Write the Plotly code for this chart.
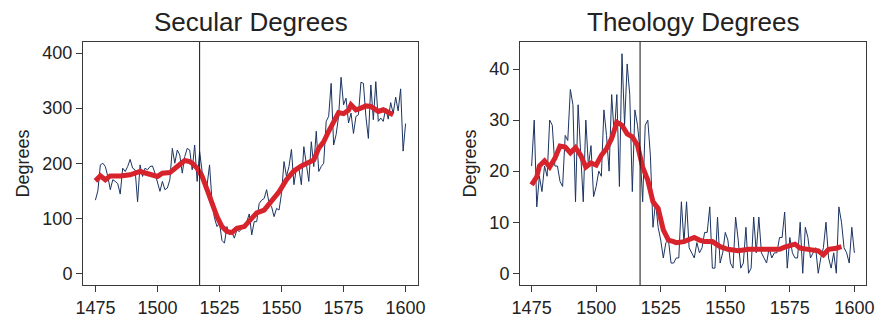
import plotly.graph_objects as go

years = list(range(1475, 1601))

secular = [133, 150, 197, 200, 194, 176, 152, 170, 167, 163,
           144, 191, 185, 194, 207, 191, 188, 130, 197, 176,
           191, 188, 194, 195, 182, 167, 149, 167, 152, 155,
           170, 227, 200, 224, 215, 182, 212, 227, 224, 188,
           233, 167, 221, 185, 173, 160, 197, 130, 100, 85,
           92, 60, 55, 85, 70, 76, 64, 79, 76, 82,
           88, 94, 108, 70, 94, 94, 127, 133, 136, 152,
           127, 121, 103, 118, 115, 145, 203, 176, 194, 225,
           161, 191, 191, 161, 230, 200, 167, 239, 194, 258,
           185, 194, 200, 276, 285, 345, 233, 252, 285, 356,
           306, 318, 273, 291, 254, 285, 288, 347, 345, 285,
           245, 342, 279, 348, 276, 282, 276, 300, 280, 310,
           290, 320, 295, 335, 222, 272]

theology = [21, 30, 13, 19, 16, 21, 19, 30, 29, 21,
            21, 18, 17, 27, 26, 36, 33, 14, 33, 24,
            14, 30, 21, 25, 15, 17, 20, 19, 32, 27,
            20, 35, 27, 35, 17, 43, 29, 41, 35, 16,
            32, 29, 24, 14, 29, 30, 23, 9, 14, 9,
            6.5, 3, 6, 6.5, 2, 2, 3, 3, 14, 6,
            14, 5, 4, 3, 6, 4, 5, 8, 8, 13,
            1, 1, 11, 2, 4, 8, 6.5, 2, 1, 11,
            6.5, 1, 2, 9, 0, 1, 11, 4, 11, 4,
            3, 2, 5, 3, 4, 4, 7, 7, 12, 1,
            7, 4, 3, 3, 10, 0, 9, 7, 3, 4,
            5, 0, 3, 5, 10, 3, 1, 4, 0, 13,
            10, 5, 4, 2, 9, 4]

sec_smooth_years = [1475, 1477, 1479, 1481, 1485, 1489, 1493, 1497, 1500, 1502,
                    1505, 1508, 1511, 1513, 1514, 1516, 1518, 1520, 1522, 1524,
                    1526, 1528, 1530, 1532, 1535, 1538, 1540, 1543, 1546, 1549,
                    1552, 1555, 1558, 1561, 1563, 1565, 1567, 1569, 1571, 1573,
                    1575, 1577, 1578, 1580, 1582, 1584, 1586, 1589, 1591, 1593,
                    1595]
sec_smooth = [168, 177, 170, 177, 177, 179, 185, 179, 176, 182,
              183, 194, 205, 203, 200, 191, 176, 152, 124, 103,
              85, 76, 74, 82, 85, 100, 110, 115, 130, 148,
              170, 186, 195, 201, 206, 227, 239, 258, 276, 292,
              290, 296, 306, 297, 300, 304, 303, 294, 297, 292,
              288]

theo_smooth_years = [1475, 1477, 1478, 1480, 1482, 1484, 1486, 1488, 1490, 1492,
                     1494, 1496, 1498, 1500, 1502, 1504, 1506, 1508, 1510, 1512,
                     1514, 1516, 1518, 1520, 1522, 1524, 1526, 1528, 1530, 1531,
                     1534, 1538, 1540, 1542, 1545, 1548, 1551, 1555, 1559, 1563,
                     1567, 1571, 1573, 1577, 1579, 1582, 1586, 1588, 1590, 1593,
                     1595]
theo_smooth = [17.3, 18.9, 21, 22, 20.8, 22.5, 24.9, 24.7, 23.6, 24.6,
               23.1, 20.8, 21.6, 21.2, 23.1, 24.4, 26.4, 29.6, 29, 27.3,
               26.7, 25.1, 20.8, 18.2, 14, 12.7, 8.5, 6.5, 6.2, 6,
               6.2, 7, 6.5, 6.2, 6.2, 5.2, 4.7, 4.4, 4.7, 4.7,
               4.9, 4.7, 5.1, 5.7, 4.9, 4.7, 4.4, 3.6, 4.7, 4.9,
               5.2]

titles = ["Secular Degrees", "Theology Degrees"]
x_ticks = [1475, 1500, 1525, 1550, 1575, 1600]
sec_y_ticks = [0, 100, 200, 300, 400]
theo_y_ticks = [0, 10, 20, 30, 40]
reform_year = 1517

NAVY = "#1c3461"
RED = "#d7232b"
AX = "#3a3a3a"
FONT = "Liberation Sans, Arial, sans-serif"

W, H = 878, 320
fig = go.Figure()

fig.add_trace(go.Scatter(x=years, y=secular, mode="lines",
                         line=dict(color=NAVY, width=1), xaxis="x", yaxis="y",
                         showlegend=False, hoverinfo="skip"))
fig.add_trace(go.Scatter(x=sec_smooth_years, y=sec_smooth, mode="lines",
                         line=dict(color=RED, width=5), xaxis="x", yaxis="y",
                         showlegend=False, hoverinfo="skip"))
fig.add_trace(go.Scatter(x=years, y=theology, mode="lines",
                         line=dict(color=NAVY, width=1), xaxis="x2", yaxis="y2",
                         showlegend=False, hoverinfo="skip"))
fig.add_trace(go.Scatter(x=theo_smooth_years, y=theo_smooth, mode="lines",
                         line=dict(color=RED, width=5), xaxis="x2", yaxis="y2",
                         showlegend=False, hoverinfo="skip"))

left_dom = [83 / W, 418 / W]
right_dom = [520 / W, 866 / W]
y_dom = [1 - 285 / H, 1 - 42 / H]

axis_common = dict(showline=True, mirror=True, linecolor=AX, linewidth=1,
                   ticks="outside", ticklen=6, tickcolor=AX, tickwidth=1,
                   showgrid=False, zeroline=False, automargin=False,
                   tickfont=dict(family=FONT, size=18, color="#222222"))

fig.update_layout(
    width=W, height=H,
    margin=dict(l=0, r=0, t=0, b=0),
    paper_bgcolor="white", plot_bgcolor="white",
    font=dict(family=FONT, color="#222222"),
    xaxis=dict(domain=left_dom, range=[1470, 1605], tickvals=x_ticks,
               anchor="y", **axis_common),
    yaxis=dict(domain=y_dom, range=[-21, 420], tickvals=sec_y_ticks,
               anchor="x", title=dict(text="Degrees", standoff=8,
                                      font=dict(family=FONT, size=18, color="#222222")),
               **axis_common),
    xaxis2=dict(domain=right_dom, range=[1470.5, 1604.5], tickvals=x_ticks,
                anchor="y2", **axis_common),
    yaxis2=dict(domain=y_dom, range=[-2.3, 45.3], tickvals=theo_y_ticks,
                anchor="x2", title=dict(text="Degrees", standoff=8,
                                        font=dict(family=FONT, size=18, color="#222222")),
                **axis_common),
)

for xr, yr in (("x", "y domain"), ("x2", "y2 domain")):
    fig.add_shape(type="line", xref=xr, yref=yr, x0=reform_year, x1=reform_year,
                  y0=0, y1=1, line=dict(color="#111111", width=1), layer="above")

for i, t in enumerate(titles):
    dom = left_dom if i == 0 else right_dom
    fig.add_annotation(text=t, xref="paper", yref="paper",
                       x=(dom[0] + dom[1]) / 2, y=1 - 22 / H,
                       xanchor="center", yanchor="middle", showarrow=False,
                       font=dict(family=FONT, size=26, color="#222222"))

fig.write_html("out.html",
               config={"displayModeBar": False},
               post_script="document.body.style.margin='0';document.body.style.overflow='hidden';")
